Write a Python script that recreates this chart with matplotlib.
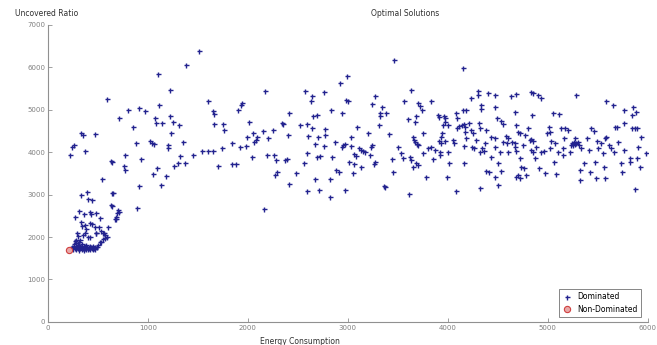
import matplotlib
matplotlib.use("Agg")
import matplotlib.pyplot as plt
import numpy as np

# values: (energy consumption, uncovered ratio)
low_cluster = [
    (390, 3053), (334, 2990), (440, 2872), (400, 2895), (650, 3029), (634, 2754),
    (700, 2636), (690, 2557), (674, 2423), (307, 2612), (274, 2478), (357, 2533),
    (417, 2596), (434, 2533), (484, 2573), (327, 2360), (367, 2282), (417, 2321),
    (467, 2242), (600, 2242), (550, 2100), (484, 2100), (367, 2100), (300, 2022),
    (284, 1927), (400, 2006), (567, 1967), (534, 1888), (500, 1809), (467, 1770),
    (523, 2440), (510, 2243), (527, 2141), (350, 2046), (417, 1991), (483, 2085),
    (563, 2085), (573, 2038), (590, 1991), (550, 1944), (517, 1873), (317, 1928),
    (337, 2259), (383, 2180), (440, 2306), (290, 2101),
    (230, 1730), (245, 1760), (255, 1710), (265, 1790), (275, 1740), (285, 1720),
    (295, 1770), (305, 1745), (315, 1705), (325, 1730), (335, 1760), (345, 1715),
    (355, 1740), (365, 1700), (375, 1750), (385, 1725), (395, 1760), (405, 1710),
    (415, 1740), (425, 1720), (435, 1765), (445, 1735), (455, 1710), (465, 1745),
    (475, 1725), (490, 1760), (260, 1840), (280, 1860), (300, 1820), (320, 1800),
    (340, 1830), (360, 1790), (380, 1815), (420, 1800), (450, 1790), (310, 1880),
    (270, 1900),
]

rise = [
    (217, 3927), (243, 4132), (257, 4163), (327, 4462), (350, 4407), (367, 4037),
    (473, 4423), (590, 5241), (540, 3368), (637, 3038), (640, 2731), (707, 2581),
    (683, 2463), (677, 2416), (633, 3785), (640, 3760), (710, 4793), (800, 4997),
    (757, 3683), (773, 3581), (773, 3927), (850, 4604), (877, 4210), (887, 2676),
    (907, 3203), (910, 5052), (927, 3848), (973, 4966), (1017, 4258), (1040, 4226),
    (1063, 4195), (1050, 3494), (1067, 4816), (1083, 4698), (1090, 3636), (1100, 5840),
    (1107, 5116), (1130, 3235), (1140, 4683), (1177, 3447), (1197, 4108), (1200, 4163),
    (1217, 4840), (1220, 5470), (1230, 4454), (1250, 4722), (1263, 3683), (1297, 3738),
    (1310, 4635), (1320, 3911), (1350, 4250), (1367, 3738), (1377, 6060), (1447, 3927),
    (1510, 6383), (1543, 4037), (1600, 4037), (1650, 4037), (1600, 5194), (1650, 4958),
    (1660, 4900), (1657, 4659), (1697, 3675),
]

middle = [
    (1750, 4667), (1757, 4525), (1744, 4108), (1837, 4226), (1840, 3715), (1883, 3715),
    (1897, 4997), (1924, 4132), (1934, 5116), (1940, 5155), (1984, 4155), (1990, 4368),
    (2007, 4722), (2050, 4462), (2044, 3896), (2060, 4250), (2084, 4289), (2090, 4368),
    (2150, 4502), (2167, 5446), (2190, 3935), (2197, 4329), (2160, 2660), (2250, 4525),
    (2257, 3935), (2284, 3817), (2274, 3463), (2290, 3542), (2337, 4683), (2350, 4659),
    (2374, 3817), (2394, 3840), (2404, 4407), (2407, 4918), (2407, 3242), (2484, 3502),
    (2524, 4643), (2560, 3754), (2567, 5446), (2590, 4659), (2600, 4384), (2594, 3990),
    (2590, 3085), (2627, 5194), (2644, 5312), (2640, 4565), (2650, 4840), (2667, 4195),
    (2670, 3360), (2690, 4880), (2704, 4352), (2694, 3896), (2717, 3911), (2710, 3108),
    (2757, 4155), (2760, 5415), (2767, 4407), (2774, 4541), (2817, 3360), (2824, 2935),
    (2834, 4997), (2840, 3896), (2867, 4250), (2884, 3581), (2910, 3526), (2917, 5627),
    (2944, 4918), (2944, 4132), (2950, 4171), (2967, 4195), (2974, 3108), (2990, 5785),
    (2984, 5218), (2997, 5210), (3007, 3778), (3027, 4368), (3034, 4155), (3050, 3502),
    (3060, 3958), (3077, 3911), (3064, 3715), (3094, 4604), (3110, 4092), (3134, 4053),
    (3150, 4029), (3167, 4014), (3134, 3660), (3204, 4462), (3217, 3927), (3234, 4132),
    (3244, 4163), (3244, 5139), (3267, 5312), (3257, 3722), (3274, 3762), (3307, 4643),
    (3317, 4856), (3320, 4918), (3344, 5060), (3360, 3211), (3370, 3171), (3384, 4934),
    (3410, 4423), (3444, 3833), (3450, 3542), (3457, 6178), (3500, 4132), (3534, 3974),
    (3557, 5210), (3550, 3856), (3600, 4785), (3607, 3006), (3617, 3896), (3627, 3817),
    (3634, 5454), (3650, 4368), (3662, 4290), (3675, 4230), (3688, 4190), (3700, 4171),
    (3667, 4722), (3684, 4840), (3700, 5155), (3724, 5076), (3744, 4997), (3650, 3660),
    (3677, 3738), (3700, 3699), (3750, 3974), (3777, 3407), (3750, 4447), (3800, 4092),
]

upper_right = [
    (3834, 5215), (3900, 4877), (3907, 4838), (3957, 4853), (3967, 4814), (3950, 4641),
    (3974, 4704), (4000, 4641), (3944, 4444), (3934, 4365), (3967, 4263), (3910, 4263),
    (3927, 4208), (3917, 4011), (3917, 3933), (3867, 4050), (3850, 3838), (3834, 4129),
    (4000, 4011), (3990, 3405), (4010, 3752), (4050, 4287), (4060, 4208), (4084, 4916),
    (4090, 4798), (4094, 4562), (4107, 4625), (4084, 3090), (4150, 5979), (4154, 4995),
    (4184, 4995), (4140, 4641), (4157, 4657), (4174, 4601), (4167, 4483), (4157, 4145),
    (4157, 3736), (4184, 4326), (4207, 4680), (4227, 4523), (4234, 5270), (4250, 4444),
    (4240, 4129), (4260, 4090), (4284, 4287), (4297, 5444), (4297, 5349), (4307, 4680),
    (4324, 4562), (4327, 5113), (4334, 5018), (4324, 4011), (4340, 4090), (4357, 4027),
    (4317, 3161), (4367, 4208), (4384, 4523), (4384, 3555), (4400, 5389), (4407, 3523),
    (4427, 3893), (4434, 4350), (4467, 5349), (4467, 5074), (4467, 4326), (4474, 4114),
    (4467, 3405), (4487, 4798), (4500, 3224), (4500, 3736), (4517, 4011), (4534, 4735),
    (4550, 4672), (4534, 3563), (4550, 4247),
]

far_right = [
    (4634, 5326), (4684, 5373), (4667, 4956), (4584, 4389), (4600, 4326), (4590, 4208),
    (4600, 4011), (4644, 4247), (4667, 4208), (4667, 4129), (4684, 4641), (4700, 4483),
    (4717, 4444), (4684, 4027), (4677, 3421), (4700, 3460), (4717, 3397), (4734, 3657),
    (4757, 3618), (4724, 3854), (4750, 4169), (4767, 4405), (4784, 3460), (4800, 4562),
    (4817, 4287), (4834, 4300), (4850, 4270), (4827, 5412), (4850, 5404), (4834, 4050),
    (4850, 4011), (4844, 4877), (4867, 3854), (4884, 4129), (4900, 5349), (4910, 3618),
    (4934, 5286), (4934, 4011), (4957, 4027), (4967, 3500), (4990, 4444), (5017, 4483),
    (5010, 4602), (5017, 4090), (5034, 4263), (5050, 4932), (5057, 3775), (5067, 4208),
    (5077, 3476), (5100, 4011), (5110, 4893), (5134, 4562), (5167, 4562), (5200, 4523),
    (5150, 3933), (5157, 4342), (5150, 4090), (5217, 4011), (5234, 4160), (5250, 4180),
    (5260, 4240), (5272, 4200), (5285, 4220), (5298, 4250), (5310, 4175), (5245, 4215),
    (5267, 4326), (5284, 5349), (5317, 3578), (5317, 3342), (5334, 4090), (5357, 3736),
    (5390, 4342), (5410, 4050), (5417, 3539), (5427, 4562), (5460, 4499), (5467, 3775),
    (5484, 3382), (5490, 4263), (5500, 4090), (5534, 4208), (5550, 3972), (5567, 4326),
    (5584, 4365), (5557, 3657), (5567, 3397), (5584, 5208), (5610, 4169), (5634, 4090),
    (5650, 5113), (5660, 4011), (5667, 4602), (5690, 4602), (5700, 4247), (5734, 3752),
    (5744, 3523), (5757, 4696), (5757, 4995), (5757, 4050), (5817, 3870), (5817, 3775),
    (5840, 4877), (5850, 5074), (5840, 4562), (5867, 4562), (5890, 4562), (5884, 4956),
    (5890, 3854), (5867, 3130), (5900, 4129), (5917, 3657), (5934, 4365), (5984, 3972),
]

non_dominated = [(207, 1685)]

dominated = np.array(low_cluster + rise + middle + upper_right + far_right)
nd = np.array(non_dominated)

fig = plt.figure(figsize=(6.57, 3.45), dpi=100)
ax = fig.add_axes([0.073, 0.067, 0.913, 0.861])

ax.plot(dominated[:, 0], dominated[:, 1], '+', color='#23238f', ms=3.6, mew=1.0,
        label='Dominated')
ax.plot(nd[:, 0], nd[:, 1], 'o', mec='#d04040', mfc='#e8a8a8', ms=4.5, mew=0.8,
        label='Non-Dominated')

ax.set_xlim(0, 6000)
ax.set_ylim(0, 7000)
ax.set_xticks(np.arange(0, 6001, 1000))
ax.set_yticks(np.arange(0, 7001, 1000))
for s in ['top', 'right']:
    ax.spines[s].set_visible(False)
for s in ['left', 'bottom']:
    ax.spines[s].set_color('#909090')
    ax.spines[s].set_linewidth(0.8)
ax.tick_params(direction='in', length=3, width=0.6, colors='#909090',
               labelsize=5, labelcolor='#808080', pad=2)

leg = ax.legend(loc='lower right', fontsize=5.5, frameon=True, fancybox=False,
                handlelength=1.2, borderpad=0.4, labelspacing=0.4,
                bbox_to_anchor=(0.995, 0.005))
leg.get_frame().set_edgecolor('#505050')
leg.get_frame().set_linewidth(0.6)

fig.text(15 / 657, 1 - 13 / 345, 'Uncovered Ratio', fontsize=5.5, color='#303030',
         ha='left', va='center')
fig.text(405 / 657, 1 - 13 / 345, 'Optimal Solutions', fontsize=5.5, color='#303030',
         ha='center', va='center')
fig.text(300 / 657, 1 - 341 / 345, 'Energy Consumption', fontsize=5.5, color='#303030',
         ha='center', va='center')

fig.savefig('out.png', dpi=100)
